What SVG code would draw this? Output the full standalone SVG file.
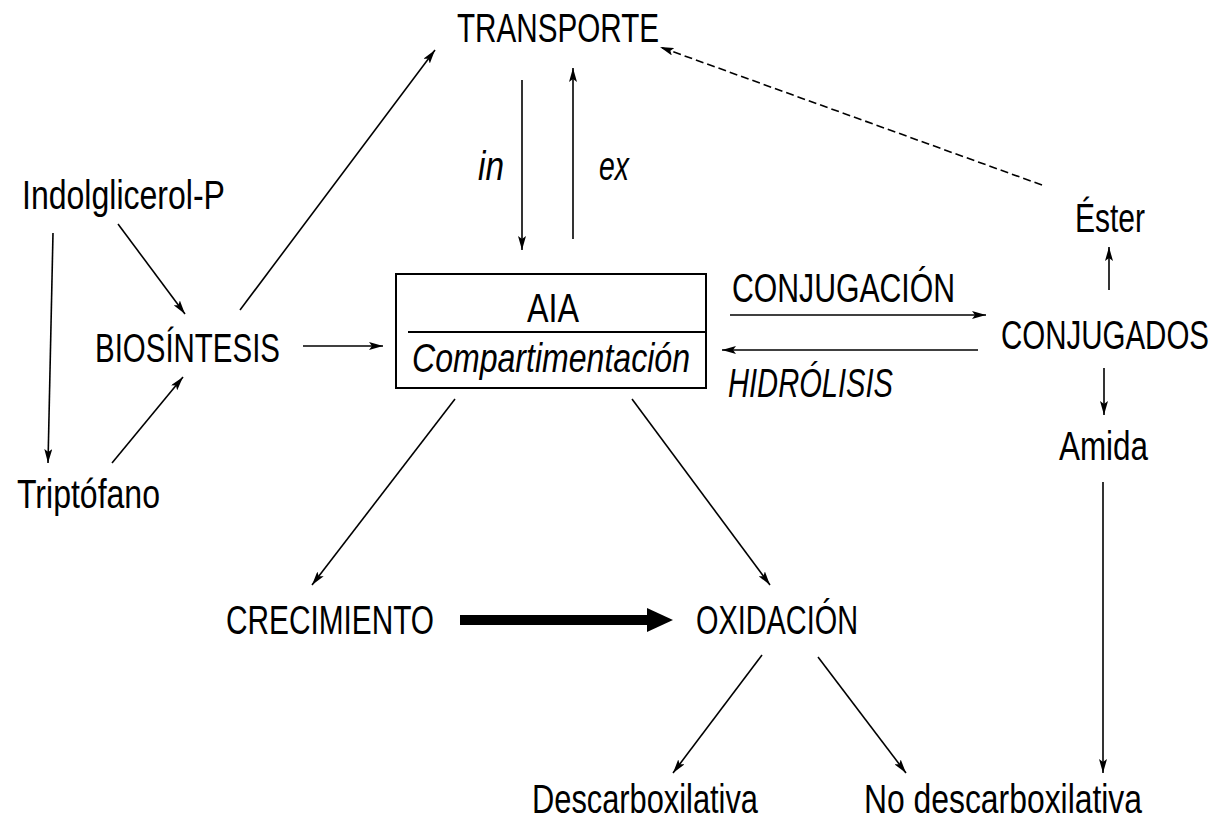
<svg xmlns="http://www.w3.org/2000/svg" width="1221" height="823" viewBox="0 0 1221 823">
<style>
text{font-family:"Liberation Sans",Arial,sans-serif;font-size:40px;fill:#000}
.i{font-style:italic}
.c line,.c path{stroke:#000;stroke-width:1.6;fill:none}
.c .d{stroke-dasharray:8 4}
.box{fill:none;stroke:#000;stroke-width:2}
</style>
<defs>
<marker id="a" viewBox="0 0 14 8" markerWidth="14" markerHeight="8" refX="14" refY="4" orient="auto" markerUnits="userSpaceOnUse">
<path d="M0,0 L14,4 L0,8 L3,4 z" fill="#000"/>
</marker>
</defs>
<g id="transporte"><text x="457" y="42" textLength="202" lengthAdjust="spacingAndGlyphs">TRANSPORTE</text></g>
<g id="in"><text class="i" x="478" y="180" textLength="26" lengthAdjust="spacingAndGlyphs">in</text></g>
<g id="ex"><text class="i" x="599" y="180" textLength="30" lengthAdjust="spacingAndGlyphs">ex</text></g>
<g id="indolglicerol"><text x="22" y="209" textLength="203" lengthAdjust="spacingAndGlyphs">Indolglicerol-P</text></g>
<g id="biosintesis"><text x="95" y="362" textLength="185" lengthAdjust="spacingAndGlyphs">BIOSÍNTESIS</text></g>
<g id="triptofano"><text x="17" y="508" textLength="143" lengthAdjust="spacingAndGlyphs">Triptófano</text></g>
<g id="aia">
<rect class="box" x="396" y="274" width="310" height="114"/>
<line class="box" x1="408" y1="332" x2="706" y2="332"/>
<text x="527" y="322" textLength="52" lengthAdjust="spacingAndGlyphs">AIA</text>
<text class="i" x="412" y="372" textLength="278" lengthAdjust="spacingAndGlyphs">Compartimentación</text>
</g>
<g id="conjugacion"><text x="732" y="302" textLength="223" lengthAdjust="spacingAndGlyphs">CONJUGACIÓN</text></g>
<g id="hidrolisis"><text class="i" x="728" y="397" textLength="165" lengthAdjust="spacingAndGlyphs">HIDRÓLISIS</text></g>
<g id="conjugados"><text x="1001" y="349" textLength="208" lengthAdjust="spacingAndGlyphs">CONJUGADOS</text></g>
<g id="ester"><text x="1075" y="232" textLength="70" lengthAdjust="spacingAndGlyphs">Éster</text></g>
<g id="amida"><text x="1059" y="460" textLength="89" lengthAdjust="spacingAndGlyphs">Amida</text></g>
<g id="crecimiento"><text x="226" y="634" textLength="208" lengthAdjust="spacingAndGlyphs">CRECIMIENTO</text></g>
<g id="oxidacion"><text x="696" y="634" textLength="162" lengthAdjust="spacingAndGlyphs">OXIDACIÓN</text></g>
<g id="descarboxilativa"><text x="532" y="813" textLength="226" lengthAdjust="spacingAndGlyphs">Descarboxilativa</text></g>
<g id="nodescarboxilativa"><text x="864" y="813" textLength="278" lengthAdjust="spacingAndGlyphs">No descarboxilativa</text></g>
<g class="c" id="connectors">
<line x1="522" y1="80" x2="522" y2="250" marker-end="url(#a)"/>
<line x1="573" y1="239" x2="573" y2="68" marker-end="url(#a)"/>
<line x1="240" y1="310" x2="435" y2="50" marker-end="url(#a)"/>
<line class="d" x1="1042" y1="185" x2="660" y2="47" marker-end="url(#a)"/>
<line x1="1109" y1="290" x2="1109" y2="247" marker-end="url(#a)"/>
<line x1="1104" y1="368" x2="1104" y2="415" marker-end="url(#a)"/>
<line x1="1103" y1="482" x2="1103" y2="773" marker-end="url(#a)"/>
<line x1="53" y1="233" x2="48" y2="463" marker-end="url(#a)"/>
<line x1="118" y1="224" x2="185" y2="314" marker-end="url(#a)"/>
<line x1="112" y1="463" x2="183" y2="377" marker-end="url(#a)"/>
<line x1="303" y1="346" x2="383" y2="346" marker-end="url(#a)"/>
<line x1="730" y1="315" x2="986" y2="315" marker-end="url(#a)"/>
<line x1="978" y1="350" x2="722" y2="350" marker-end="url(#a)"/>
<line x1="455" y1="399" x2="312" y2="585" marker-end="url(#a)"/>
<line x1="632" y1="399" x2="770" y2="585" marker-end="url(#a)"/>
<line x1="762" y1="655" x2="673" y2="773" marker-end="url(#a)"/>
<line x1="818" y1="657" x2="906" y2="773" marker-end="url(#a)"/>
<line x1="460" y1="620" x2="650" y2="620" style="stroke-width:10"/>
<path d="M647,608 L673,620 L647,632 z" style="fill:#000;stroke:none"/>
</g>
</svg>
